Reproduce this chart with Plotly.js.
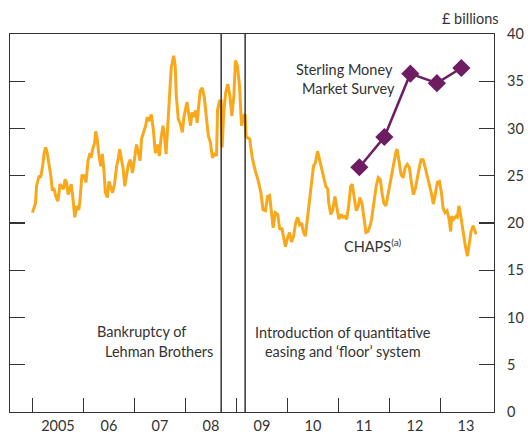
<!DOCTYPE html>
<html>
<head>
<meta charset="utf-8">
<script src="https://cdn.plot.ly/plotly-3.0.1.min.js"></script>
<style>html,body{margin:0;padding:0;background:#fff}#chart{width:528px;height:436px}</style>
</head>
<body>
<div id="chart"></div>
<script>
// CHAPS (a), £ billions, decimal-year dates
const chapsDates = [2005.00,2005.03,2005.06,2005.08,2005.13,2005.16,2005.20,2005.23,2005.26,2005.29,2005.32,2005.36,2005.39,2005.42,2005.46,2005.50,2005.54,2005.57,2005.61,2005.64,2005.67,2005.70,2005.74,2005.76,2005.79,2005.83,2005.87,2005.91,2005.93,2005.97,
2006.01,2006.05,2006.09,2006.13,2006.15,2006.18,2006.22,2006.24,2006.27,2006.30,2006.34,2006.37,2006.40,2006.43,2006.47,2006.50,2006.53,2006.57,2006.61,2006.65,2006.68,2006.71,2006.74,2006.78,2006.81,2006.85,2006.88,2006.92,2006.96,
2007.00,2007.04,2007.07,2007.11,2007.14,2007.18,2007.22,2007.25,2007.29,2007.33,2007.37,2007.41,2007.45,2007.49,2007.52,2007.56,2007.59,2007.62,2007.65,2007.69,2007.72,2007.75,2007.77,2007.80,2007.82,2007.86,2007.90,2007.94,2007.97,
2008.00,2008.03,2008.06,2008.10,2008.13,2008.16,2008.20,2008.23,2008.26,2008.29,2008.33,2008.37,2008.41,2008.45,2008.49,2008.53,2008.57,2008.61,2008.63,2008.67,2008.70,2008.72,2008.75,2008.79,2008.83,2008.87,2008.91,2008.95,2008.98,
2009.02,2009.06,2009.10,2009.14,2009.17,2009.19,2009.22,2009.26,2009.31,2009.37,2009.43,2009.48,2009.52,2009.57,2009.61,2009.65,2009.68,2009.72,2009.76,2009.81,2009.85,2009.89,2009.92,2009.96,
2010.00,2010.04,2010.08,2010.12,2010.16,2010.20,2010.24,2010.28,2010.31,2010.35,2010.39,2010.43,2010.47,2010.51,2010.55,2010.59,2010.63,2010.67,2010.71,2010.75,2010.79,2010.81,2010.85,2010.89,2010.93,2010.97,
2011.01,2011.05,2011.09,2011.13,2011.16,2011.20,2011.24,2011.27,2011.31,2011.35,2011.39,2011.42,2011.46,2011.50,2011.54,2011.58,2011.62,2011.65,2011.70,2011.74,2011.78,2011.82,2011.86,2011.89,2011.93,2011.97,
2012.01,2012.05,2012.09,2012.13,2012.15,2012.19,2012.23,2012.27,2012.31,2012.35,2012.39,2012.43,2012.47,2012.51,2012.55,2012.59,2012.62,2012.66,2012.70,2012.74,2012.78,2012.82,2012.86,2012.90,2012.94,2012.98,
2013.02,2013.05,2013.09,2013.13,2013.17,2013.20,2013.22,2013.26,2013.30,2013.33,2013.36,2013.38,2013.41,2013.45,2013.49,2013.53,2013.56,2013.60,2013.64,2013.67,2013.70];
const chapsValues = [21.1,21.6,22.1,23.9,25.0,24.8,26.0,27.4,28.0,27.4,26.4,25.0,23.4,23.7,22.8,22.3,24.1,23.9,23.6,24.6,24.3,23.0,23.6,24.1,22.8,20.6,21.8,21.4,22.3,25.0,
25.0,24.3,26.6,27.4,26.9,27.8,28.5,29.7,28.9,27.3,26.0,27.3,25.7,23.2,22.7,24.4,23.9,23.2,24.1,26.0,26.7,27.8,26.9,25.7,23.9,25.0,26.2,26.7,25.3,
26.7,28.3,27.6,26.6,28.9,29.6,30.3,31.2,30.8,31.5,29.9,27.4,28.3,27.1,28.9,30.3,29.2,27.3,30.3,34.3,36.3,37.2,37.7,36.6,33.5,31.0,30.5,29.6,31.2,
32.0,32.8,31.7,30.3,31.7,31.2,31.9,30.6,32.4,34.0,34.3,33.3,31.2,29.2,28.5,26.9,27.4,27.1,32.0,32.9,32.9,28.0,31.7,33.8,34.7,33.5,31.3,33.5,37.2,
36.6,34.5,30.3,31.3,31.5,29.2,29.0,28.9,26.9,25.5,24.4,23.2,21.4,21.3,22.8,22.9,21.1,19.5,21.1,20.9,19.3,19.5,18.6,17.5,
18.4,19.0,18.0,18.6,20.0,20.6,19.8,20.0,19.1,18.6,20.4,22.5,24.6,26.0,26.4,27.6,26.7,25.7,25.0,23.9,23.6,22.1,20.9,21.4,22.8,21.6,
20.4,20.9,20.6,20.7,20.4,21.8,23.9,24.1,22.8,21.3,21.8,22.7,22.1,20.4,19.0,19.1,19.7,20.4,22.5,23.9,24.8,24.6,23.0,22.1,21.8,23.0,
24.3,25.1,26.4,27.6,27.8,26.2,25.1,24.8,25.9,26.2,25.9,24.3,23.0,23.7,25.0,26.0,26.7,26.7,25.9,25.0,24.4,23.2,22.0,23.2,24.3,24.4,
23.2,21.6,21.1,21.3,20.4,19.1,20.7,20.4,20.7,20.6,21.8,21.4,20.2,19.1,17.5,16.5,17.9,19.1,19.7,19.1,18.8];

// Sterling Money Market Survey
const surveyDates = [2011.41, 2011.90, 2012.41, 2012.93, 2013.41];
const surveyValues = [25.9, 29.1, 35.8, 34.8, 36.4];

// Event lines
const eventDates = [2008.70, 2009.17]; // Lehman bankruptcy, QE introduction

// Axis ticks
const yearBoundaries = [2005, 2006, 2007, 2008, 2009, 2010, 2011, 2012, 2013];
const yearMids = [2005.5, 2006.5, 2007.5, 2008.5, 2009.5, 2010.5, 2011.5, 2012.5, 2013.5];
const yearLabels = ['2005', '06', '07', '08', '09', '10', '11', '12', '13'];
const yTicks = [0, 5, 10, 15, 20, 25, 30, 35, 40];

const FONT = 'Lato, "Open Sans", sans-serif';
const TXT = '#333333';
const FS = 14.5;
const xRange = [2004.56, 2014.05];

const traces = [
  {x: chapsDates, y: chapsValues, type: 'scatter', mode: 'lines',
   line: {color: '#f9a81b', width: 3}, hoverinfo: 'skip', xaxis: 'x', yaxis: 'y'},
  {x: surveyDates, y: surveyValues, type: 'scatter', mode: 'lines+markers',
   line: {color: '#6e1d63', width: 2.5},
   marker: {symbol: 'diamond', size: 14, color: '#6e1d63'},
   hoverinfo: 'skip', xaxis: 'x2', yaxis: 'y'}
];

const shapes = eventDates.map(d => ({
  type: 'line', xref: 'x', yref: 'paper', x0: d, x1: d, y0: 0, y1: 1,
  line: {color: '#000000', width: 1.2}
}));

const ann = (text, x, y, xanchor, extra) => Object.assign({
  text, x, y, xref: 'paper', yref: 'paper', xanchor: xanchor || 'center', yanchor: 'middle',
  showarrow: false, font: {family: FONT, size: FS, color: TXT}
}, extra || {});

const layout = {
  width: 528, height: 436,
  margin: {l: 10, r: 34, t: 34, b: 24},
  paper_bgcolor: '#ffffff', plot_bgcolor: '#ffffff',
  showlegend: false,
  font: {family: FONT, size: FS, color: TXT},
  xaxis: {range: xRange, tickmode: 'array', tickvals: yearBoundaries, showticklabels: false,
    ticks: 'inside', ticklen: 14, tickwidth: 1.2, tickcolor: '#333',
    showline: true, linecolor: '#333', linewidth: 1.2, mirror: true,
    showgrid: false, zeroline: false, fixedrange: true},
  xaxis2: {range: xRange, overlaying: 'x', anchor: 'y', side: 'bottom',
    tickmode: 'array', tickvals: yearMids, ticktext: yearLabels, ticks: '',
    ticklabelstandoff: 3,
    showline: false, showgrid: false, zeroline: false,
    tickfont: {family: FONT, size: FS, color: TXT}},
  yaxis: {range: [0, 40], side: 'right', tickmode: 'array', tickvals: yTicks,
    ticks: 'inside', ticklen: 15, tickwidth: 1.2, tickcolor: '#333',
    ticklabelstandoff: 9,
    showline: true, linecolor: '#333', linewidth: 1.2, mirror: 'ticks',
    showgrid: false, zeroline: false, tickfont: {family: FONT, size: FS, color: TXT}},
  shapes,
  annotations: [
    ann('£ billions', 1.014, 1.04, 'right'),
    ann('Bankruptcy of', 0.3675, 0.213, 'right'),
    ann('Lehman Brothers', 0.424, 0.160, 'right'),
    ann('Introduction of quantitative<br>easing and ‘floor’ system', 0.688, 0.186, 'center'),
    ann('Sterling Money', 0.691, 0.905, 'center'),
    ann('Market Survey', 0.700, 0.856, 'center'),
    ann('CHAPS<sup>(a)</sup>', 0.685, 0.440, 'left')
  ]
};

Plotly.newPlot('chart', traces, layout, {displayModeBar: false, staticPlot: true});
</script>
</body>
</html>
